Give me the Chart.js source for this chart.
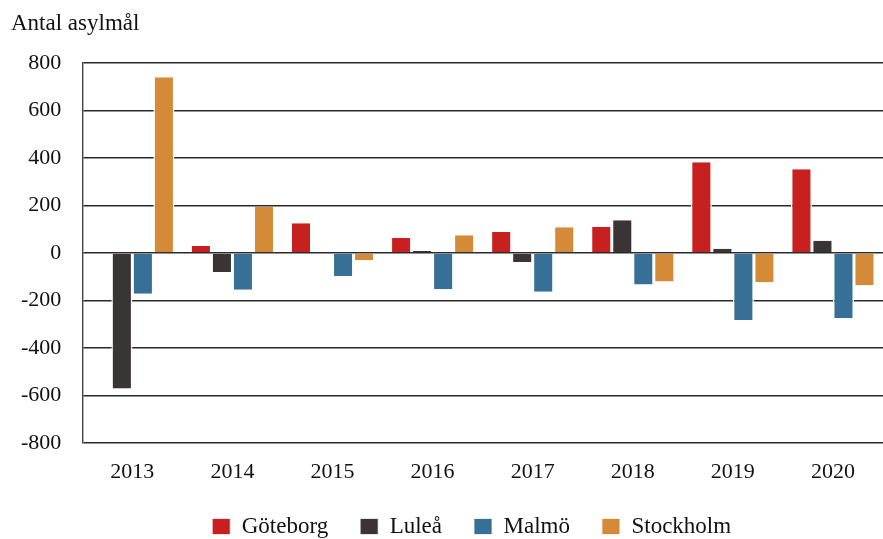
<!DOCTYPE html>
<html>
<head>
<meta charset="utf-8">
<script src="https://cdn.jsdelivr.net/npm/chart.js@4"></script>
<style>
  body { margin: 0; background: #fff; }
  #wrap { width: 883px; height: 539px; }
</style>
</head>
<body>
<div id="wrap"><canvas id="myChart" width="883" height="539"></canvas></div>
<script>
const years = ['2013', '2014', '2015', '2016', '2017', '2018', '2019', '2020'];
const goteborg = [0, 30, 125, 63, 88, 110, 382, 353];
const lulea = [-570, -80, 0, 8, -38, 138, 18, 52];
const malmo = [-172, -155, -97, -153, -163, -133, -282, -275];
const stockholm = [740, 195, -30, 75, 108, -120, -123, -136];
const yTicks = [800, 600, 400, 200, 0, -200, -400, -600, -800];

const serif = "'Liberation Serif', 'DejaVu Serif', serif";

// y axis caption in the top left corner, legend nudged a bit left
const captionPlugin = {
  id: 'caption',
  afterLayout(chart) {
    chart.legend.left -= 11;
    chart.legend.right -= 11;
  },
  afterDraw(chart) {
    const c = chart.ctx;
    c.save();
    c.font = '23px ' + serif;
    c.fillStyle = '#111';
    c.textBaseline = 'middle';
    c.textAlign = 'left';
    c.fillText('Antal asylmål', 11, 24);
    c.restore();
  }
};

const ctx = document.getElementById('myChart').getContext('2d');
const myChart = new Chart(ctx, {
  type: 'bar',
  data: {
    labels: years,
    datasets: [
      { label: 'Göteborg', data: goteborg, backgroundColor: '#C8201F' },
      { label: 'Luleå', data: lulea, backgroundColor: '#3A3435' },
      { label: 'Malmö', data: malmo, backgroundColor: '#376F96' },
      { label: 'Stockholm', data: stockholm, backgroundColor: '#D58A37' }
    ]
  },
  options: {
    responsive: false,
    animation: false,
    layout: { padding: { top: 63, left: 0, right: 0, bottom: -9 } },
    datasets: {
      bar: {
        categoryPercentage: 0.84,
        barPercentage: 1.0,
        borderWidth: { left: 1.5, right: 1.5, top: 0, bottom: 0 },
        borderColor: '#fff'
      }
    },
    plugins: {
      legend: {
        position: 'bottom',
        fullSize: false,
        labels: {
          font: { family: serif, size: 23 },
          color: '#111',
          boxWidth: 18,
          boxHeight: 16,
          padding: 32
        }
      },
      tooltip: { enabled: false }
    },
    scales: {
      x: {
        grid: { display: false, drawTicks: false },
        border: { display: false },
        ticks: { font: { family: serif, size: 22 }, color: '#111', padding: 16 },
        afterFit(axis) { axis.height = 40; }
      },
      y: {
        min: -800,
        max: 800,
        afterBuildTicks(axis) {
          axis.ticks = yTicks.map(v => ({ value: v }));
        },
        grid: { color: '#2a2a2a', lineWidth: 1.4, drawTicks: false },
        border: { display: true, color: '#444', width: 1.4 },
        ticks: { font: { family: serif, size: 22 }, color: '#111', padding: 21 }
      }
    }
  },
  plugins: [captionPlugin]
});
</script>
</body>
</html>
